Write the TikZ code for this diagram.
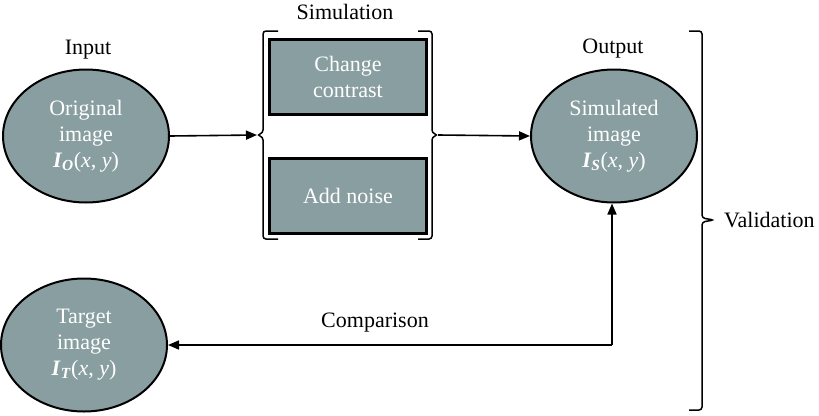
\documentclass[tikz,border=0pt]{standalone}
\usepackage{fontspec}
\setmainfont{Liberation Serif}
\usetikzlibrary{arrows.meta,shapes.geometric}
\definecolor{fillgray}{RGB}{137,158,160}
\tikzset{
  ell/.style={ellipse,draw=black,line width=2pt,fill=fillgray,text=white,inner sep=0pt,
    minimum width=166pt,minimum height=133pt,align=center,font=\fontsize{22}{26}\selectfont},
  opbox/.style={rectangle,draw=black,line width=2.6pt,fill=fillgray,text=white,inner sep=0pt,
    minimum width=157pt,minimum height=75pt,align=center,font=\fontsize{22}{26}\selectfont},
  lbl/.style={font=\fontsize{22}{26}\selectfont,inner sep=0pt},
  arr/.style={line width=1.6pt,-{Triangle[length=11pt,width=9pt]}},
  brace/.style={line width=1.5pt,rounded corners=3pt},
}
\begin{document}
\begin{tikzpicture}[x=1pt,y=-1pt]
\useasboundingbox (0,0) rectangle (819,415);
\fill[white] (0,0) rectangle (819,415);
% ellipses
\node[ell] (orig) at (86,136) {Original\\image\\\textbf{\textit{I}}\textsubscript{\textbf{\textit{O}}}(\textit{x}, \textit{y})};
\node[ell] (sim) at (614,136) {Simulated\\image\\\textbf{\textit{I}}\textsubscript{\textbf{\textit{S}}}(\textit{x}, \textit{y})};
\node[ell] (targ) at (84,345) {Target\\image\\\textbf{\textit{I}}\textsubscript{\textbf{\textit{T}}}(\textit{x}, \textit{y})};
% labels
\node[lbl] (inlbl) at (88,50) {Input};
\node[lbl] (outlbl) at (613,49) {Output};
\node[lbl] (simlbl) at (345,12) {Simulation};
\node[lbl] (cmplbl) at (375,323) {Comparison};
\node[lbl,anchor=west] (vallbl) at (724,220) {Validation};
% boxes
\node[opbox] (contrast) at (348,77) {Change\\contrast};
\node[opbox] (noise) at (348,196) {Add noise};
% simulation brackets
\coordinate (lnub) at (257,135);
\coordinate (rnub) at (438,135);
\draw[brace] (278,31) -- (263,31) -- (263,133) -- (257,135) -- (263,137) -- (263,239) -- (278,239);
\draw[brace] (418,31) -- (432,31) -- (432,133) -- (438,135) -- (432,137) -- (432,239) -- (418,239);
% validation brace
\coordinate (vnub) at (714,220);
\draw[brace] (689,31) -- (702,31) -- (702,218) -- (714,220) -- (702,222) -- (702,410) -- (689,410);
% connectors
\draw[arr] (orig.east) -- (lnub);
\draw[arr] (rnub) -- (sim.west);
\coordinate (corner) at (612,345);
\draw[arr] (corner) -- (corner |- sim.south);
\draw[arr] (corner) -- (targ.east);
\end{tikzpicture}
\end{document}
